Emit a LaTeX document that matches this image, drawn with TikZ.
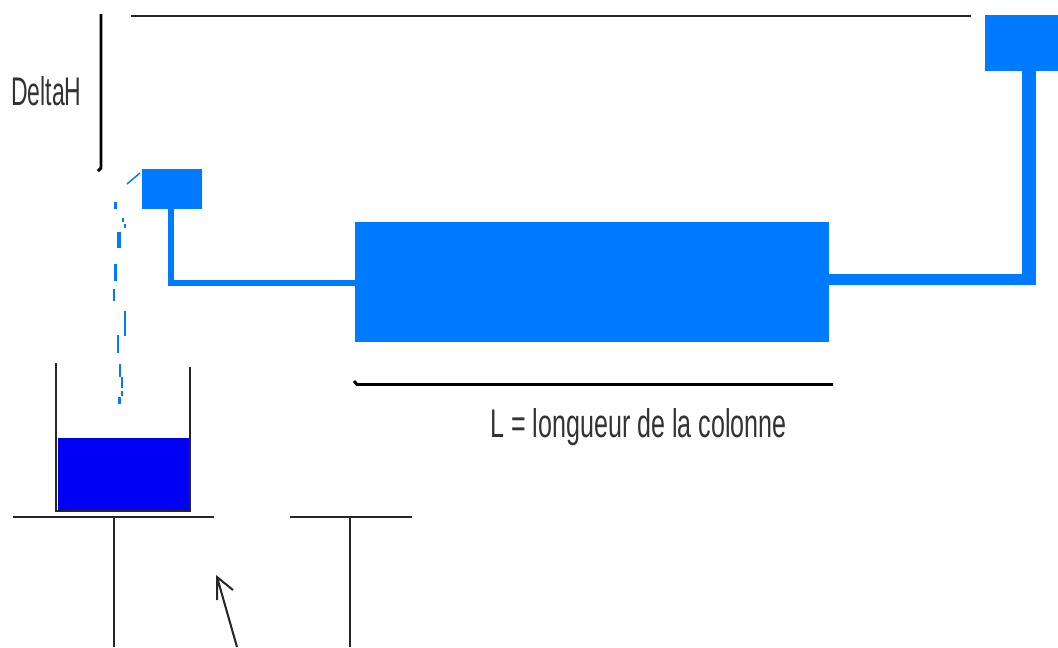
\documentclass[tikz,border=0pt]{standalone}
\usepackage{fontspec}
\setmainfont[FakeStretch=0.627]{Liberation Sans}
\newfontfamily\fontdelta[FakeStretch=0.575]{Liberation Sans}
\definecolor{eau}{RGB}{0,122,255}
\definecolor{bac}{RGB}{0,0,245}
\tikzset{
  reservoir/.style={draw=none,fill=eau,inner sep=0pt,outer sep=0pt,anchor=north west},
  tuyau/.style={draw=eau,line join=miter},
  trait/.style={draw=black!85,line width=1.5pt},
  cote/.style={draw=black,line width=2.2pt},
  goutte/.style={draw=eau,line width=1.7pt},
  legende/.style={anchor=base west,inner sep=0pt,font=\fontsize{30}{36}\selectfont,text=black!80}
}
\begin{document}
\begin{tikzpicture}[x=0.75pt,y=0.75pt,yscale=-1,xscale=1]
    \useasboundingbox (0,0) rectangle (1058,647);

    %Shape: Rectangle
    \node [reservoir,minimum width=45pt,minimum height=30pt] (tankA) at (142,169) {};
    \node [reservoir,minimum width=355.5pt,minimum height=90pt] (colonne) at (355,222) {};
    \node [reservoir,minimum width=55pt,minimum height=42pt] (tankB) at (985,15) {};

    %Straight Lines
    \coordinate (coudeA) at (171,282.5);
    \coordinate (coudeB) at (1029,279.5);
    \draw [tuyau,line width=4.5pt] (tankA.south -| coudeA) -- (coudeA) -- (coudeA -| colonne.west);
    \draw [tuyau,line width=8.6pt] (coudeB -| colonne.east) -- (coudeB);
    \draw [tuyau,line width=10pt] (coudeB |- tankB.south) -- ([yshift=4.3pt]coudeB);

    %Straight Lines
    \coordinate (hautG) at (131,16);
    \coordinate (hautD) at (971,16);
    \draw [trait] (hautG) -- (hautD);
    \coordinate (deltaH) at (101,14);
    \coordinate (deltaB) at (101,168);
    \coordinate (deltaF) at (98,171);
    \draw [cote] (deltaH) -- (deltaB) -- (deltaF);
    \coordinate (longG) at (354,381);
    \coordinate (longC) at (357,384.5);
    \coordinate (longD) at (833,384.5);
    \draw [cote] (longG) -- (longC) -- (longD);

    %Shape: Beaker
    \node [fill=bac,inner sep=0pt,outer sep=0pt,anchor=north west,minimum width=99pt,minimum height=54.5pt] (eauBac) at (58,437.5) {};
    \coordinate (bacHG) at (55.5,363);
    \coordinate (bacBG) at (55.5,510.5);
    \coordinate (bacBD) at (190,510.5);
    \coordinate (bacHD) at (190,367);
    \draw [trait] (bacHG) -- (bacBG) -- (bacBD) -- (bacHD);

    %Shape: Supports
    \coordinate (tableAg) at (13,516.5);
    \coordinate (tableAd) at (214,516.5);
    \coordinate (piedA) at (114,516.5);
    \coordinate (piedAb) at (114,647);
    \coordinate (tableBg) at (290,516.5);
    \coordinate (tableBd) at (412,516.5);
    \coordinate (piedB) at (349.5,516.5);
    \coordinate (piedBb) at (349.5,647);
    \draw [trait] (tableAg) -- (tableAd) (piedA) -- (piedAb);
    \draw [trait] (tableBg) -- (tableBd) (piedB) -- (piedBb);

    %Straight Lines: arrow
    \coordinate (fleche) at (217,577);
    \coordinate (flecheB) at (237,647);
    \coordinate (barbeA) at (217,600);
    \coordinate (barbeB) at (233,590);
    \draw [trait] (flecheB) -- (fleche) (barbeA) -- (fleche) -- (barbeB);

    %Curve: drip
    \draw [goutte,line width=1.1pt] (140,173) -- (127,184);
    \draw [goutte] (115.5,202) -- (115.5,209);
    \draw [goutte] (123,218) -- (123,222) (125,224) -- (125,228);
    \draw [goutte,line width=3pt] (118.5,232) -- (118.5,248);
    \draw [goutte] (115.5,264) -- (115.5,281);
    \draw [goutte] (114,289) -- (114,301);
    \draw [goutte] (125.3,311) -- (125.3,336);
    \draw [goutte] (117.7,335) -- (117.7,353);
    \draw [goutte] (119.7,364) -- (119.7,377);
    \draw [goutte] (121.7,377) -- (121.7,388) (121.7,391) -- (121.7,396);
    \draw [goutte] (119.5,397) -- (119.5,404);

    % Text Node
    \node [legende] (labelDelta) at (11,105) {\fontdelta DeltaH};
    % Text Node
    \node [legende] (labelL) at (490,437) {L = longueur de la colonne};
\end{tikzpicture}
\end{document}
